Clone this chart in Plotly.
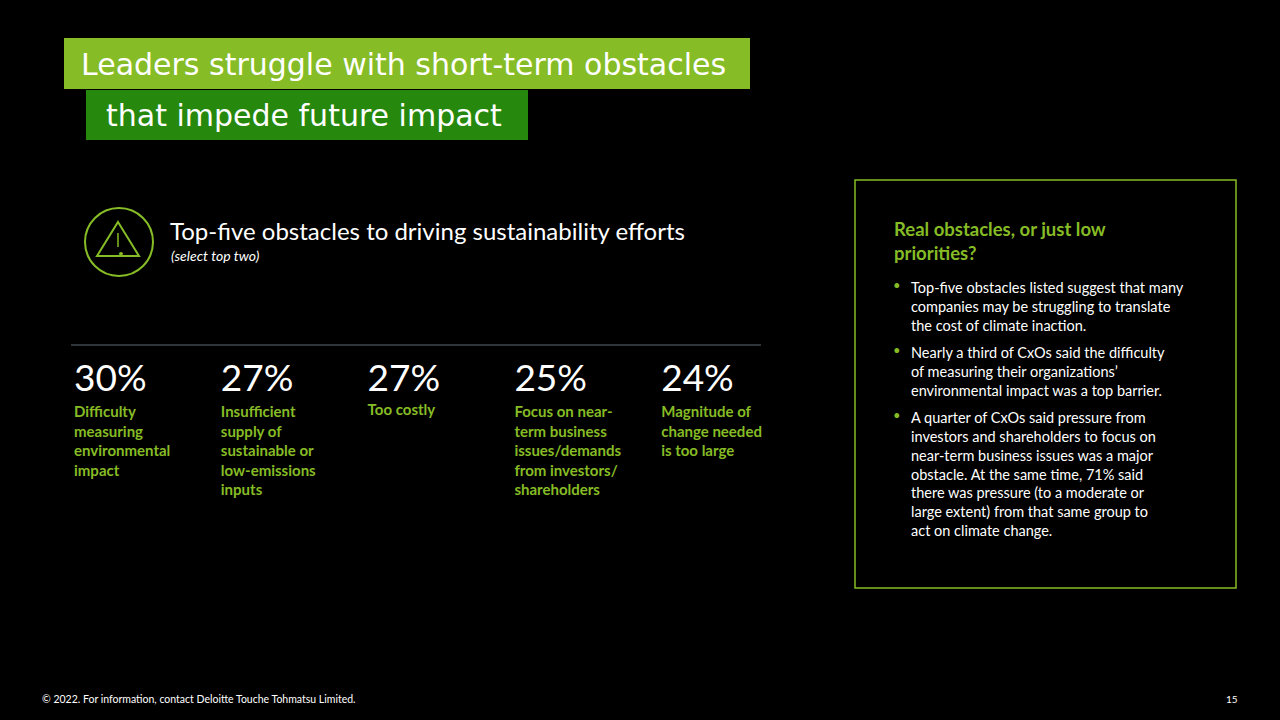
import plotly.graph_objects as go

# data
obstacles = [
    "Difficulty<br>measuring<br>environmental<br>impact",
    "Insufficient<br>supply of<br>sustainable or<br>low-emissions<br>inputs",
    "Too costly",
    "Focus on near-<br>term business<br>issues/demands<br>from investors/<br>shareholders",
    "Magnitude of<br>change needed<br>is too large",
]
shares = [30, 27, 27, 25, 24]
label_offsets = [0, 0, -2, 0, 0]

bullets = [
    "Top-five obstacles listed suggest that many<br>companies may be struggling to translate<br>the cost of climate inaction.",
    "Nearly a third of CxOs said the difficulty<br>of measuring their organizations’<br>environmental impact was a top barrier.",
    "A quarter of CxOs said pressure from<br>investors and shareholders to focus on<br>near-term business issues was a major<br>obstacle. At the same time, 71% said<br>there was pressure (to a moderate or<br>large extent) from that same group to<br>act on climate change.",
]
bullet_y = [277, 342, 407]

GREEN = "#86BC25"
DARK_GREEN = "#26890D"
FONT = "Lato"
W, H = 1280, 720

def px(x):
    return x / W

def py(y):
    return 1 - y / H

fig = go.Figure()

idx = list(range(len(shares)))
fig.add_trace(go.Scatter(
    x=idx, y=[382] * len(shares), mode="text",
    text=[f"{v}%" for v in shares], textposition="middle right",
    textfont=dict(family=FONT, size=37, color="white"),
    hoverinfo="skip", showlegend=False,
))
fig.add_trace(go.Scatter(
    x=idx, y=[406 + o for o in label_offsets], mode="text",
    text=[f"<b>{t}</b>" for t in obstacles], textposition="bottom right",
    textfont=dict(family=FONT, size=15, color=GREEN),
    hoverinfo="skip", showlegend=False,
))

step = 146.8
lo = -74 / step
shapes = [
    dict(type="rect", xref="paper", yref="paper", x0=px(64), x1=px(750), y0=py(89), y1=py(38),
         fillcolor=GREEN, line_width=0, layer="below"),
    dict(type="rect", xref="paper", yref="paper", x0=px(86), x1=px(528), y0=py(140), y1=py(90),
         fillcolor=DARK_GREEN, line_width=0, layer="below"),
    dict(type="circle", xref="paper", yref="paper", x0=px(85), x1=px(153), y0=py(276), y1=py(208),
         line=dict(color=GREEN, width=2)),
    dict(type="path", xref="paper", yref="paper",
         path=f"M {px(118)},{py(222)} L {px(139)},{py(256)} L {px(97)},{py(256)} Z",
         line=dict(color=GREEN, width=2)),
    dict(type="line", xref="paper", yref="paper", x0=px(118), x1=px(118), y0=py(233), y1=py(247),
         line=dict(color=GREEN, width=1.5)),
    dict(type="line", xref="paper", yref="paper", x0=px(71), x1=px(761), y0=py(345), y1=py(345),
         line=dict(color="#5a6b73", width=1)),
    dict(type="rect", xref="paper", yref="paper", x0=px(855), x1=px(1236), y0=py(588), y1=py(180),
         line=dict(color=GREEN, width=1.5)),
]

TITLE_FONT = "DejaVu Sans"
ann = [
    dict(x=px(79), y=py(64), text="Leaders struggle with short-term obstacles",
         font=dict(family=TITLE_FONT, size=30, color="white")),
    dict(x=px(104), y=py(116), text="that impede future impact",
         font=dict(family=TITLE_FONT, size=30, color="white")),
    dict(x=px(168), y=py(231), text="Top-five obstacles to driving sustainability efforts",
         font=dict(family=FONT, size=24, color="white")),
    dict(x=px(169), y=py(255), text="<i>(select top two)</i>",
         font=dict(family=FONT, size=14, color="white")),
    dict(x=px(116), y=py(253), text="•", font=dict(family=FONT, size=10, color=GREEN)),
    dict(x=px(892), y=py(241), text="<b>Real obstacles, or just low<br>priorities?</b>",
         font=dict(family=FONT, size=18.5, color=GREEN)),
    dict(x=px(40), y=py(699), text="© 2022. For information, contact Deloitte Touche Tohmatsu Limited.",
         font=dict(family=FONT, size=10.5, color="white")),
    dict(x=px(1224), y=py(699), text="15", font=dict(family=FONT, size=10, color="white")),
]
for t, y in zip(bullets, bullet_y):
    ann.append(dict(x=px(891), y=py(y + 8), text="•", font=dict(family=FONT, size=13, color=GREEN)))
    ann.append(dict(x=px(909), y=py(y), text=t, yanchor="top",
                    font=dict(family=FONT, size=14.5, color="white")))
for a in ann:
    a.setdefault("yanchor", "middle")
    a.update(xref="paper", yref="paper", xanchor="left", align="left", showarrow=False)

fig.update_layout(
    width=W, height=H, margin=dict(l=0, r=0, t=0, b=0),
    paper_bgcolor="black", plot_bgcolor="black",
    xaxis=dict(range=[lo, lo + W / step], visible=False, fixedrange=True),
    yaxis=dict(range=[H, 0], visible=False, fixedrange=True),
    shapes=shapes, annotations=ann,
)
fig.write_html("out.html", config={"displayModeBar": False},
               post_script="document.body.style.margin='0';document.body.style.background='black';")
